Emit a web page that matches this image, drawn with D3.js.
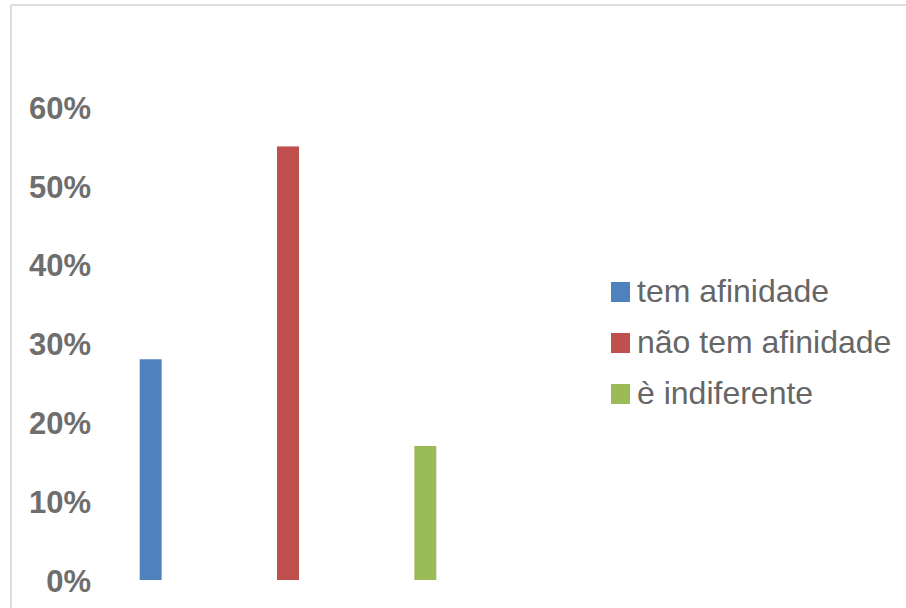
<!DOCTYPE html>
<html>
<head>
<meta charset="utf-8">
<script src="https://cdn.jsdelivr.net/npm/d3@7"></script>
<style>
  body { margin: 0; background: #fff; }
  svg { display: block; }
</style>
</head>
<body>
<svg id="chart" width="906" height="608"></svg>
<script>
let categories = ['tem afinidade', 'não tem afinidade', 'è indiferente'];
let values = [0.28, 0.55, 0.17];
let colors = ['#4f81bd', '#c0504d', '#9bbb59'];
let tickValues = [0, 0.1, 0.2, 0.3, 0.4, 0.5, 0.6];

let svg = d3.select('#chart');

// frame (top and left edges only are visible)
svg.append('line')
  .attr('x1', 11).attr('x2', 906)
  .attr('y1', 5).attr('y2', 5)
  .attr('stroke', '#dedede').attr('stroke-width', 2);
svg.append('line')
  .attr('x1', 11).attr('x2', 11)
  .attr('y1', 5).attr('y2', 608)
  .attr('stroke', '#dedede').attr('stroke-width', 2);

let y = d3.scaleLinear()
  .domain([0, 0.6])
  .range([580, 107]);
let x = d3.scaleBand()
  .domain(categories)
  .range([82, 494])
  .paddingInner(0.84)
  .paddingOuter(0.42);

let yAxis = d3.axisLeft(y)
  .tickValues(tickValues)
  .tickFormat(d3.format('.0%'))
  .tickSize(0)
  .tickPadding(0);

let gy = svg.append('g')
  .attr('transform', 'translate(91,0)')
  .call(yAxis);
gy.select('.domain').remove();
gy.selectAll('text')
  .attr('fill', '#6e6e6e')
  .attr('font-family', 'Liberation Sans, Arial, sans-serif')
  .attr('font-weight', 'bold')
  .attr('font-size', 31)
  .attr('dy', '0.36em');

svg.selectAll('rect.bar')
  .data(categories)
  .join('rect')
  .attr('class', 'bar')
  .attr('x', function(d) {return x(d)})
  .attr('width', x.bandwidth())
  .attr('y', function(d,i) {return y(values[i])})
  .attr('height', function(d,i) {return y(0) - y(values[i])})
  .attr('fill', function(d,i) {return colors[i]});

let legend = svg.append('g')
  .attr('transform', 'translate(611,282)');
let items = legend.selectAll('g')
  .data(categories)
  .join('g')
  .attr('transform', function(d,i) {return 'translate(0,' + (i * 51) + ')'});
items.append('rect')
  .attr('width', 19)
  .attr('height', 20)
  .attr('fill', function(d,i) {return colors[i]});
items.append('text')
  .attr('x', 26)
  .attr('y', 20)
  .attr('fill', '#666')
  .attr('font-family', 'Liberation Sans, Arial, sans-serif')
  .attr('font-size', 32)
  .text(function(d) {return d});
</script>
</body>
</html>
